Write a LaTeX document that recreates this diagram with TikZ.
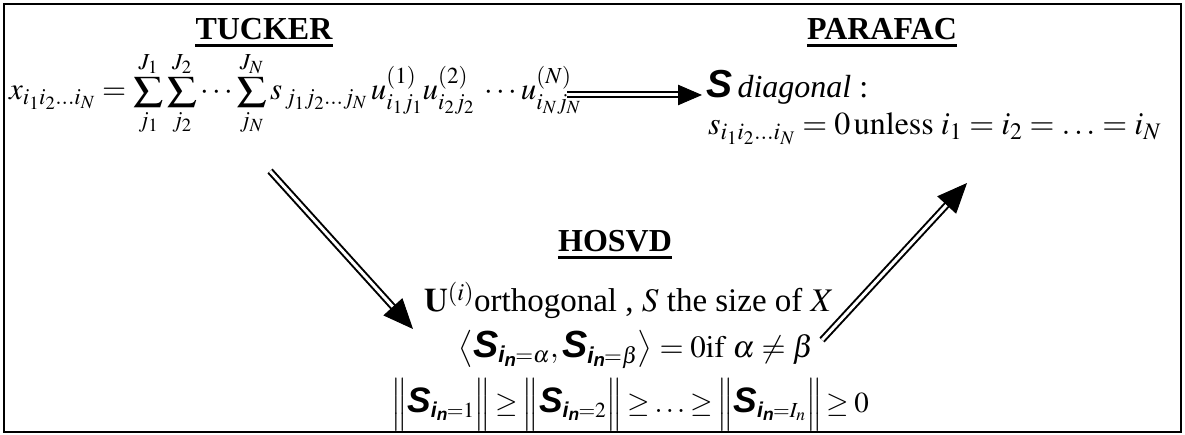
\documentclass[tikz,border=0pt]{standalone}
\usepackage{amsmath}
\usepackage{graphicx}
\usepackage{mathptmx}
\usepackage[no-math]{fontspec}
\setmainfont{Liberation Serif}
\newfontfamily\sbifont{Liberation Sans}
\newcommand{\sbi}[1]{\text{\sbifont\bfseries\itshape #1}}
\newcommand{\bigS}{\text{\sbifont\bfseries\itshape\scalebox{1.22}{S}}}
\newcommand{\Sin}[1]{\bigS_{\sbi{i}_{\sbi{n}}\mkern-1mu=#1}}
\newcommand{\bsum}{\mathop{\vcenter{\hbox{\scalebox{0.95}[0.78]{$\displaystyle\sum$}}}}\limits}
\usetikzlibrary{arrows.meta,calc}
\tikzset{
  head/.style={font=\fontsize{32}{38}\selectfont\bfseries, inner sep=0pt, anchor=base},
  uline/.style={line width=3pt},
  frm/.style={inner sep=0pt, anchor=base, font=\fontsize{32}{36}\selectfont},
  dbl/.style={double, double distance=3pt, line width=2pt},
  tip/.style={line width=1pt, -{Triangle[length=#1,width=0.85*#1]}},
}
\begin{document}
\begin{tikzpicture}[x=1pt,y=-1pt]
\useasboundingbox (0,0) rectangle (1185,435);
\draw[line width=2pt] (4,4) rectangle (1181,432);
% headings
\node[head] (tucker) at (264,40) {TUCKER};
\node[head] (parafac) at (882,40) {PARAFAC};
\node[head] (hosvd) at (615,252) {HOSVD};
\foreach \n in {tucker,parafac,hosvd}
  \draw[uline] ($(\n.base west)+(0,6)$) -- ($(\n.base east)+(0,6)$);
% Tucker formula
\node[frm, anchor=base west, font=\fontsize{31}{36}\selectfont] (tform) at (9,100)
 {$x_{i_1 i_2\ldots i_N} = \bsum_{j_1}^{J_1}\bsum_{j_2}^{J_2}\cdots\bsum_{j_N}^{J_N}
   s_{\,j_1 j_2\ldots j_N}\, u^{(1)}_{i_1 j_1} u^{(2)}_{i_2 j_2}\;\cdots u^{(N)}_{i_N j_N}$};
% PARAFAC text
\node[frm, anchor=base west] (pdiag) at (706,98)
 {$\bigS$\,\textit{diagonal} :};
\node[frm, anchor=base west] (pcond) at (708,135)
 {$s_{i_1 i_2\ldots i_N} = 0\,\mathrm{unless}\; i_1 = i_2 = \ldots = i_N$};
% HOSVD text
\node[frm, font=\fontsize{33}{36}\selectfont] (h1) at (629,312)
 {$\mathbf{U}^{(i)}$orthogonal , $\boldsymbol{S}$ the size of $\boldsymbol{X}$};
\node[frm, font=\fontsize{31}{36}\selectfont] (h2) at (636,357)
 {$\thickmuskip=4mu\left\langle \Sin{\alpha}, \Sin{\beta} \right\rangle = 0\mathrm{if}\ \alpha \neq \beta$};
\node[frm, font=\fontsize{29}{34}\selectfont] (h3) at (630,412)
 {$\thickmuskip=3mu\Bigl\|\Sin{1}\Bigr\| \geq \Bigl\|\Sin{2}\Bigr\| \geq \ldots \geq \Bigl\|\Sin{I_n}\Bigr\| \geq 0$};
% arrows
\coordinate (a1s) at (567,95);  \coordinate (a1e) at (702,95);
\coordinate (a2s) at (270,171); \coordinate (a2e) at (413,329);
\coordinate (a3s) at (822,340); \coordinate (a3e) at (967,183);
\draw[dbl] (a1s) -- ($(a1e)!20pt!(a1s)$);
\draw[tip=24pt] ($(a1e)!22pt!(a1s)$) -- (a1e);
\foreach \s/\e in {a2s/a2e,a3s/a3e}{
  \draw[dbl] (\s) -- ($(\e)!26pt!(\s)$);
  \draw[tip=30pt] ($(\e)!28pt!(\s)$) -- (\e);
}
\end{tikzpicture}
\end{document}
